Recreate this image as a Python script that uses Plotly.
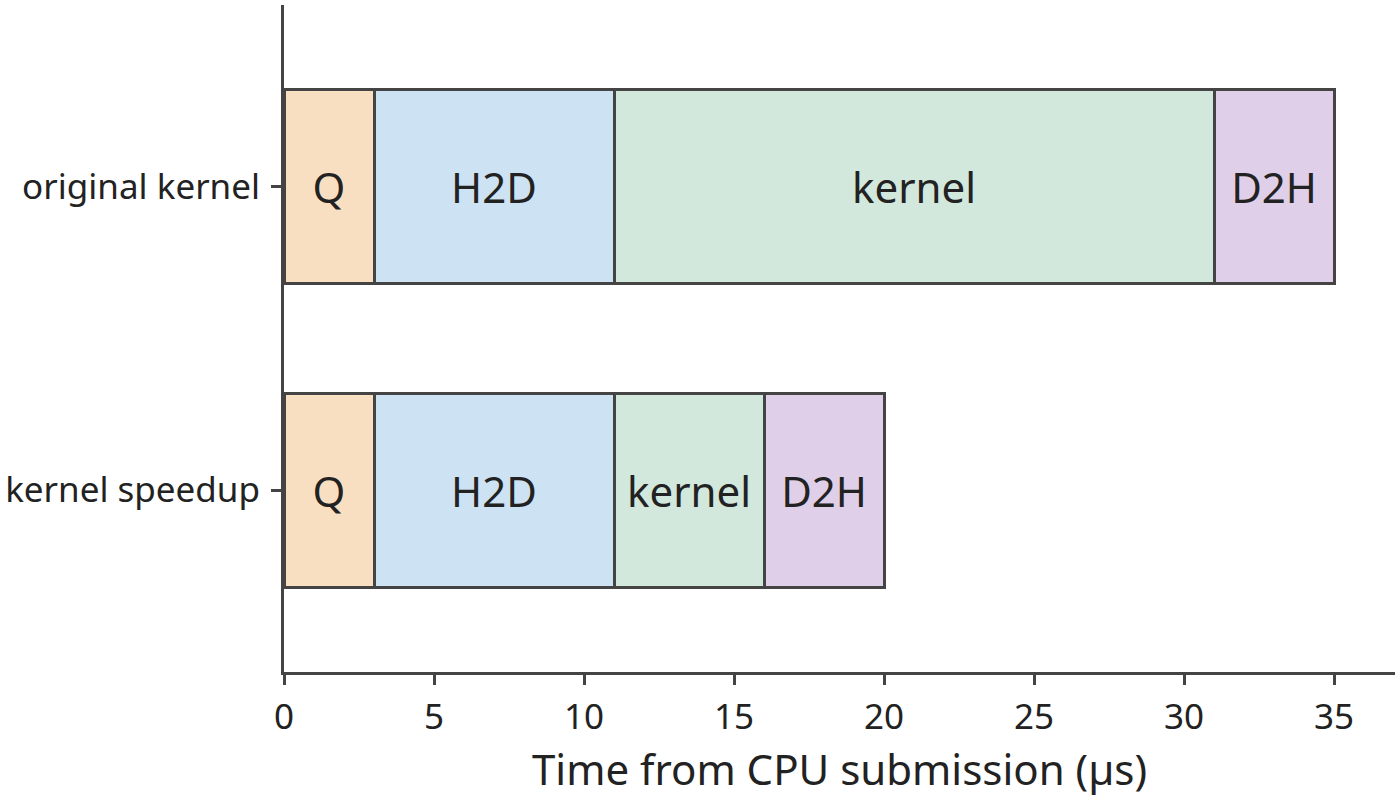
import plotly.graph_objects as go

categories = ["original kernel", "kernel speedup"]
segments = ["Q", "H2D", "kernel", "D2H"]
q_vals = [3, 3]
h2d_vals = [8, 8]
kernel_vals = [20, 5]
d2h_vals = [4, 4]
x_ticks = [0, 5, 10, 15, 20, 25, 30, 35]

values = {"Q": q_vals, "H2D": h2d_vals, "kernel": kernel_vals, "D2H": d2h_vals}
colors = {"Q": "#f9dfc2", "H2D": "#cde3f3", "kernel": "#d2e8dc", "D2H": "#dfcfe8"}

FONT = "Noto Sans"
INK = "#222222"
LINE = "#444444"

fig = go.Figure()
for seg in segments:
    fig.add_trace(go.Bar(
        y=categories,
        x=values[seg],
        orientation="h",
        name=seg,
        text=[seg] * len(categories),
        textposition="inside",
        insidetextanchor="middle",
        textangle=0,
        constraintext="none",
        textfont=dict(family=FONT, size=42, color=INK),
        marker=dict(color=colors[seg], line=dict(color=LINE, width=3)),
        width=0.64,
        hoverinfo="skip",
    ))

fig.update_layout(
    barmode="stack",
    width=1400,
    height=802,
    margin=dict(l=284, r=5, t=5, b=130),
    plot_bgcolor="white",
    paper_bgcolor="white",
    showlegend=False,
    font=dict(family=FONT, color=INK),
    uniformtext=dict(mode=False),
)
fig.update_xaxes(
    range=[0, 37.03],
    tickvals=x_ticks,
    showline=True,
    linecolor=LINE,
    linewidth=3,
    ticks="outside",
    ticklen=10,
    tickwidth=3,
    tickcolor=LINE,
    showgrid=False,
    zeroline=False,
    ticklabelstandoff=2,
    tickfont=dict(family=FONT, size=35, color=INK),
    title=dict(text="Time from CPU submission (µs)", font=dict(family=FONT, size=42, color=INK), standoff=18),
)
fig.update_yaxes(
    categoryorder="array",
    categoryarray=categories[::-1],
    range=[-0.6, 1.6],
    showline=True,
    linecolor=LINE,
    linewidth=3,
    ticks="outside",
    ticklen=10,
    tickwidth=3,
    tickcolor=LINE,
    showgrid=False,
    zeroline=False,
    ticklabelstandoff=4,
    tickfont=dict(family=FONT, size=35, color=INK),
)

fig.write_html(
    "out.html",
    config={"displayModeBar": False},
    post_script="document.body.style.margin='0';",
)
